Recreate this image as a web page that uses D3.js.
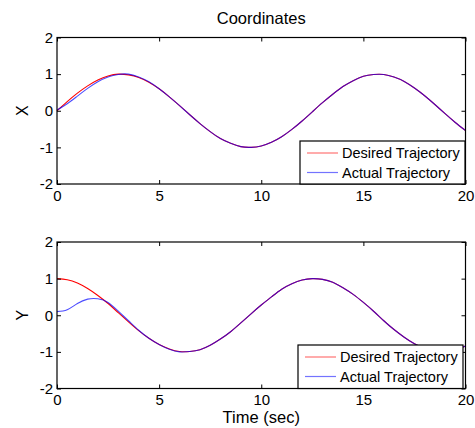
<!DOCTYPE html>
<html>
<head>
<meta charset="utf-8">
<script src="https://cdn.jsdelivr.net/npm/d3@7"></script>
<style>
  body { margin: 0; background: #fff; }
  svg { display: block; font-family: "Liberation Sans", Arial, sans-serif; }
</style>
</head>
<body>
<svg id="chart" width="475" height="428"></svg>
<script>
'use strict';

// time samples (sec)
var time = [0, 0.5, 1, 1.5, 2, 2.5, 3, 3.5, 4, 4.5, 5, 5.5, 6, 6.5, 7, 7.5, 8, 8.5, 9, 9.5,
  10, 10.5, 11, 11.5, 12, 12.5, 13, 13.5, 14, 14.5, 15, 15.5, 16, 16.5, 17, 17.5, 18, 18.5, 19, 19.5, 20];

// X coordinate
var desiredX = [0, 0.25, 0.48, 0.68, 0.84, 0.95, 1.0, 0.98, 0.91, 0.78, 0.6, 0.38, 0.14, -0.11, -0.35, -0.57,
  -0.76, -0.89, -0.98, -1.0, -0.96, -0.86, -0.71, -0.51, -0.28, -0.03, 0.22, 0.45, 0.66, 0.82, 0.94, 0.99,
  0.99, 0.92, 0.8, 0.62, 0.41, 0.17, -0.08, -0.32, -0.54];
var actualX = [0.02, 0.19, 0.4, 0.61, 0.79, 0.92, 0.99, 1.0, 0.92, 0.79, 0.6, 0.38, 0.14, -0.11, -0.35, -0.57,
  -0.76, -0.89, -0.98, -1.0, -0.96, -0.86, -0.71, -0.51, -0.28, -0.03, 0.22, 0.45, 0.66, 0.82, 0.94, 0.99,
  0.99, 0.92, 0.8, 0.62, 0.41, 0.17, -0.08, -0.32, -0.54];

// Y coordinate
var desiredY = [1.0, 0.97, 0.88, 0.73, 0.54, 0.32, 0.07, -0.18, -0.42, -0.63, -0.8, -0.92, -0.99, -0.99,
  -0.94, -0.82, -0.65, -0.45, -0.21, 0.04, 0.28, 0.5, 0.71, 0.86, 0.96, 1.0, 0.98, 0.9, 0.75, 0.57, 0.35,
  0.11, -0.15, -0.39, -0.6, -0.78, -0.91, -0.99, -1.0, -0.95, -0.84];
var actualY = [0.1, 0.15, 0.32, 0.44, 0.45, 0.35, 0.11, -0.15, -0.41, -0.63, -0.8, -0.93, -1.0, -0.99,
  -0.94, -0.82, -0.65, -0.45, -0.21, 0.04, 0.28, 0.5, 0.71, 0.86, 0.96, 1.0, 0.98, 0.9, 0.75, 0.57, 0.35,
  0.11, -0.15, -0.39, -0.6, -0.78, -0.91, -0.99, -1.0, -0.95, -0.84];

var xTicks = [0, 5, 10, 15, 20];
var yTicks = [-2, -1, 0, 1, 2];
var legendLabels = ['Desired Trajectory', 'Actual Trajectory'];
var lineColors = ['#ff0000', '#0000ff'];

var svg = d3.select('#chart');
var left = 57, right = 465.5;

var x = d3.scaleLinear().domain([0, 20]).range([left, right]);

// plain hyphen for negatives, like the original figure
function tickText(d) { return String(d); }

// one subplot
function panel(top, bottom, label, series, legendBox) {
  var y = d3.scaleLinear().domain([-2, 2]).range([bottom, top]);
  var g = svg.append('g');

  var line = d3.line()
    .x(function (d, i) { return x(time[i]); })
    .y(function (d) { return y(d); })
    .curve(d3.curveNatural);

  g.selectAll('path.series').data(series).enter().append('path')
    .attr('class', 'series')
    .attr('d', function (d) { return line(d); })
    .attr('fill', 'none')
    .attr('stroke', function (d, i) { return lineColors[i]; })
    .attr('stroke-opacity', function (d, i) { return i === 1 ? 0.7 : 1; })
    .attr('stroke-width', 1.1);

  // axes with inward ticks on all sides
  var axB = d3.axisBottom(x).tickValues(xTicks).tickSizeInner(-4).tickSizeOuter(0).tickPadding(6).tickFormat(tickText);
  var axT = d3.axisTop(x).tickValues(xTicks).tickSizeInner(-4).tickSizeOuter(0).tickFormat('');
  var axL = d3.axisLeft(y).tickValues(yTicks).tickSizeInner(-4).tickSizeOuter(0).tickPadding(4).tickFormat(tickText);
  var axR = d3.axisRight(y).tickValues(yTicks).tickSizeInner(-4).tickSizeOuter(0).tickFormat('');

  [[axB, 'translate(0,' + bottom + ')'], [axT, 'translate(0,' + top + ')'],
   [axL, 'translate(' + left + ',0)'], [axR, 'translate(' + right + ',0)']].forEach(function (a) {
    var ag = g.append('g').attr('transform', a[1]).call(a[0]);
    ag.select('.domain').remove();
    ag.selectAll('line').attr('stroke', '#000');
    ag.selectAll('text').attr('fill', '#000').style('font-size', '15px');
  });

  g.append('rect')
    .attr('x', left).attr('y', top)
    .attr('width', right - left).attr('height', bottom - top)
    .attr('fill', 'none').attr('stroke', '#000').attr('stroke-width', 1.2);

  g.append('text')
    .attr('transform', 'translate(28,' + (top + bottom) / 2 + ') rotate(-90)')
    .attr('text-anchor', 'middle')
    .style('font-size', '16px')
    .text(label);

  // legend
  var lg = g.append('g').attr('transform', 'translate(' + legendBox[0] + ',' + legendBox[1] + ')');
  lg.append('rect')
    .attr('width', legendBox[2]).attr('height', legendBox[3])
    .attr('fill', '#fff').attr('stroke', '#000').attr('stroke-width', 1.2);
  var row = lg.selectAll('g.row').data(legendLabels).enter().append('g')
    .attr('class', 'row')
    .attr('transform', function (d, i) { return 'translate(0,' + (12 + i * 19.5) + ')'; });
  row.append('line')
    .attr('x1', 7).attr('x2', 38)
    .attr('stroke', function (d, i) { return lineColors[i]; })
    .attr('stroke-opacity', 0.55)
    .attr('stroke-width', 1.2);
  row.append('text')
    .attr('x', 42).attr('dy', '0.35em')
    .style('font-size', '14.5px')
    .text(function (d) { return d; });
}

panel(37.5, 184, 'X', [desiredX, actualX], [300, 141, 165, 43]);
panel(242, 388.5, 'Y', [desiredY, actualY], [298, 345, 165, 43.5]);

svg.append('text')
  .attr('x', (left + right) / 2).attr('y', 24)
  .attr('text-anchor', 'middle')
  .style('font-size', '16.5px')
  .text('Coordinates');

svg.append('text')
  .attr('x', (left + right) / 2).attr('y', 423)
  .attr('text-anchor', 'middle')
  .style('font-size', '16.5px')
  .text('Time (sec)');
</script>
</body>
</html>
